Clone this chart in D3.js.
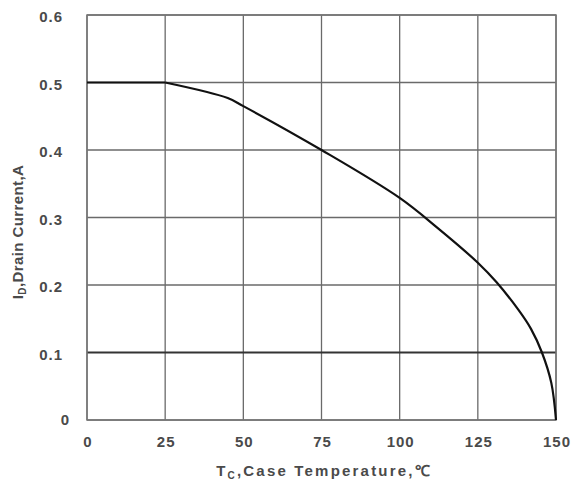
<!DOCTYPE html>
<html>
<head>
<meta charset="utf-8">
<script src="https://cdn.jsdelivr.net/npm/d3@7"></script>
<style>
  body { margin: 0; background: #fff; }
  svg text { font-family: "Liberation Sans", Arial, sans-serif; font-weight: bold; fill: #4a4a4a; }
</style>
</head>
<body>
<svg width="572" height="483"></svg>
<script>
// tick values
const xTicks = [0, 25, 50, 75, 100, 125, 150];
const yTicks = [0, 0.1, 0.2, 0.3, 0.4, 0.5, 0.6];

// derating curve
const temps = [0, 25, 45, 50, 75, 100, 112, 125, 131, 138, 142, 145.5, 148.5, 150];
const current = [0.5, 0.5, 0.477, 0.465, 0.4, 0.329, 0.285, 0.233, 0.204, 0.163, 0.135, 0.1, 0.055, 0];

const margin = { top: 15, right: 16, bottom: 63, left: 87 };
const width = 572 - margin.left - margin.right;
const height = 483 - margin.top - margin.bottom;

const svg = d3.select("svg");
const g = svg.append("g").attr("transform", `translate(${margin.left},${margin.top})`);

const x = d3.scaleLinear().domain([0, 150]).range([0, width]);
const y = d3.scaleLinear().domain([0, 0.6]).range([height, 0]);

// griglia
g.selectAll(".vgrid").data(xTicks).enter().append("line")
  .attr("x1", d => x(d)).attr("x2", d => x(d))
  .attr("y1", 0).attr("y2", height)
  .attr("stroke", "#6a6a6a").attr("stroke-width", 1.3);

g.selectAll(".hgrid").data(yTicks).enter().append("line")
  .attr("x1", 0).attr("x2", width)
  .attr("y1", d => y(d)).attr("y2", d => y(d))
  .attr("stroke", d => d === 0.1 ? "#333" : "#6a6a6a")
  .attr("stroke-width", d => d === 0.1 ? 1.8 : 1.3);

// cornice
g.append("rect").attr("width", width).attr("height", height)
  .attr("fill", "none").attr("stroke", "#777").attr("stroke-width", 1.5);

// etichette assi
g.selectAll(".xlab").data(xTicks).enter().append("text")
  .attr("x", d => x(d) + 1).attr("y", height + 27)
  .attr("text-anchor", "middle").attr("font-size", 15).attr("letter-spacing", 1)
  .text(d => d);

g.selectAll(".ylab").data(yTicks).enter().append("text")
  .attr("x", d => d === 0 ? -17 : -24).attr("y", d => y(d) + (d === 0 ? 5 : 7))
  .attr("text-anchor", "end").attr("font-size", 15).attr("letter-spacing", 1)
  .text(d => d === 0 ? "0" : d3.format(".1f")(d));

// curva: tratto piatto lineare, poi discesa smussata
const pts = temps.map((t, i) => [t, current[i]]);
const knee = 1; // indice del punto a 25 gradi

const flat = d3.line().x(d => x(d[0])).y(d => y(d[1]));
const bend = d3.line().x(d => x(d[0])).y(d => y(d[1])).curve(d3.curveCatmullRom.alpha(0.5));

g.append("path").datum(pts.slice(0, knee + 1))
  .attr("d", flat)
  .attr("fill", "none").attr("stroke", "#111").attr("stroke-width", 2.2);

g.append("path").datum(pts.slice(knee))
  .attr("d", bend)
  .attr("fill", "none").attr("stroke", "#111").attr("stroke-width", 2.2);

// titoli
const xt = svg.append("text").attr("x", 324).attr("y", 476)
  .attr("text-anchor", "middle").attr("font-size", 15).attr("letter-spacing", 2.2);
xt.append("tspan").text("T");
xt.append("tspan").attr("font-size", 10).attr("dy", 3).text("C");
xt.append("tspan").attr("dy", -3).text(",Case Temperature,℃");

const yt = svg.append("text").attr("transform", "translate(23,232) rotate(-90)")
  .attr("text-anchor", "middle").attr("font-size", 15).attr("letter-spacing", 0.4);
yt.append("tspan").text("I");
yt.append("tspan").attr("font-size", 10).attr("dy", 3).text("D");
yt.append("tspan").attr("dy", -3).text(",Drain Current,A");
</script>
</body>
</html>
